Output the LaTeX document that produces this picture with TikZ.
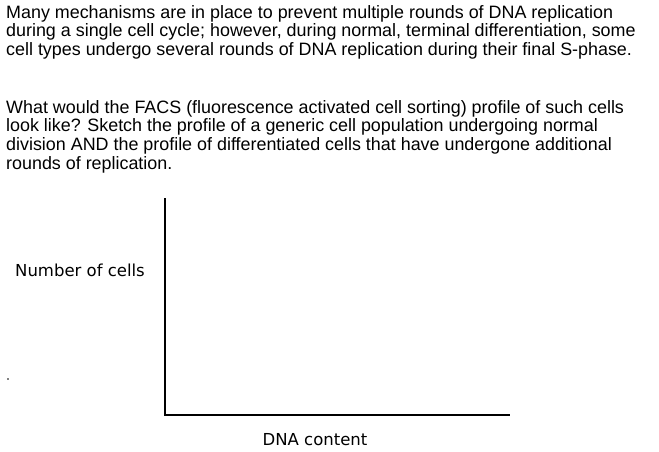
\documentclass[tikz,border=0pt]{standalone}
\usepackage{fontspec}
\setmainfont{Liberation Sans}
\newfontfamily\labfont{DejaVu Sans}
\begin{document}
\begin{tikzpicture}[x=1pt,y=-1pt,
  para/.style={anchor=north west,inner sep=0pt,align=left,font=\fontsize{17.9}{18.8}\selectfont},
  lab/.style={inner sep=0pt,font=\labfont\fontsize{16.5}{18}\selectfont},
  axis/.style={line width=1.1pt}]
\useasboundingbox (0,0) rectangle (659,452);
\node[para] (p1) at (6,5) {Many mechanisms are in place to prevent multiple rounds of DNA replication\\during a single cell cycle; however, during normal, terminal differentiation, some\\cell types undergo several rounds of DNA replication during their final S-phase.};
\node[para] (p2) at (6,100) {What would the FACS (fluorescence activated cell sorting) profile of such cells\\look like? Sketch the profile of a generic cell population undergoing normal\\division AND the profile of differentiated cells that have undergone additional\\rounds of replication.};
\coordinate (top) at (165,198);
\coordinate (o) at (165,415);
\coordinate (r) at (510,415);
\draw[axis] (top) -- (o) -- (r);
\node[lab] (y) at (80,270) {Number of cells};
\node[lab] (x) at (315,440) {DNA content};
\fill (8,379) circle (0.9);
\end{tikzpicture}
\end{document}
